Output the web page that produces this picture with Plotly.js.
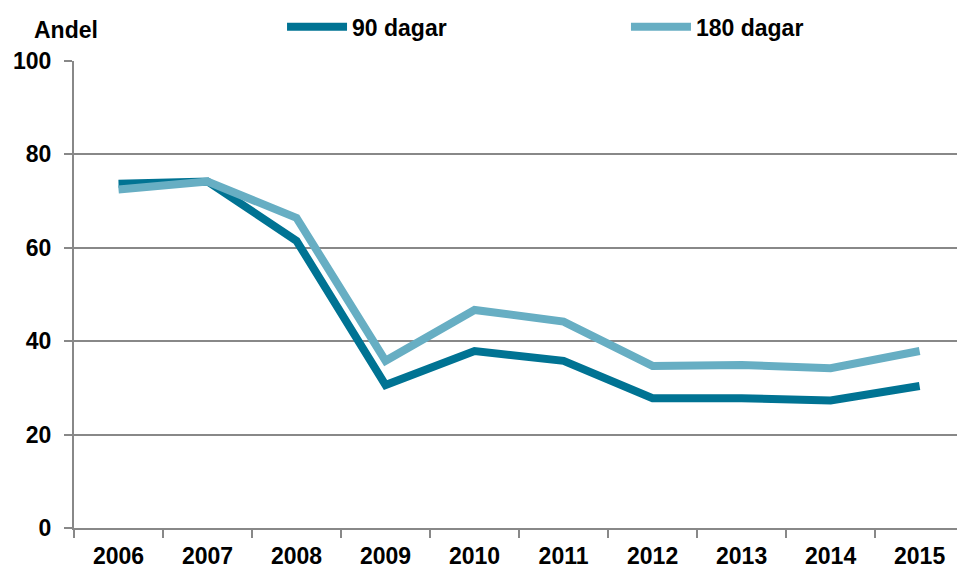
<!DOCTYPE html>
<html><head><meta charset="utf-8">
<script src="https://cdn.plot.ly/plotly-3.0.1.min.js"></script>
<style>body{margin:0;background:#fff}#chart{width:957px;height:568px}</style>
</head><body><div id="chart"></div>
<script>
const years = ['2006','2007','2008','2009','2010','2011','2012','2013','2014','2015'];
const dagar90 = [73.7, 74.2, 61.5, 30.6, 37.9, 35.8, 27.8, 27.8, 27.3, 30.4];
const dagar180 = [72.5, 74.2, 66.4, 35.8, 46.7, 44.2, 34.7, 34.9, 34.2, 37.9];
const yTicks = [0, 20, 40, 60, 80, 100];

const font = {family: 'Liberation Sans, Arial, sans-serif', color: '#000'};
const bold = (s) => Object.assign({}, font, {size: s, weight: 'bold'});
const legendBase = {orientation: 'h', xanchor: 'left', y: 1.073, yanchor: 'middle',
  font: bold(23), itemwidth: 60, bgcolor: 'rgba(0,0,0,0)'};
const traces = [
  {x: years, y: dagar90, name: '90 dagar', type: 'scatter', mode: 'lines',
   line: {color: '#007393', width: 8}, legend: 'legend'},
  {x: years, y: dagar180, name: '180 dagar', type: 'scatter', mode: 'lines',
   line: {color: '#67AEC3', width: 8}, legend: 'legend2'}
];
const layout = {
  width: 957, height: 568,
  margin: {l: 74, r: 0, t: 61, b: 40, autoexpand: false},
  paper_bgcolor: '#fff', plot_bgcolor: '#fff',
  showlegend: true,
  legend: Object.assign({}, legendBase, {x: 0.2356}),
  legend2: Object.assign({}, legendBase, {x: 0.6251}),
  xaxis: {type: 'category', range: [-0.5, 9.42], tickson: 'boundaries',
          ticks: 'outside', ticklen: 8, tickwidth: 2, tickcolor: '#888',
          showgrid: false, showline: true, linecolor: '#888', linewidth: 2,
          ticklabelstandoff: 6,
          tickfont: bold(23), fixedrange: true},
  yaxis: {range: [0, 100], tickvals: yTicks, ticks: 'outside', ticklen: 8, tickwidth: 2,
          tickcolor: '#888', showgrid: true, gridcolor: '#888', gridwidth: 2,
          showline: true, linecolor: '#888', linewidth: 2, zeroline: false,
          ticklabelstandoff: 8,
          tickfont: bold(23), fixedrange: true},
  annotations: [{text: 'Andel', xref: 'paper', yref: 'paper', x: -0.047, y: 1.066,
                 xanchor: 'left', yanchor: 'middle', showarrow: false,
                 font: bold(23)}]
};
Plotly.newPlot('chart', traces, layout, {displayModeBar: false, staticPlot: true});
</script></body></html>
